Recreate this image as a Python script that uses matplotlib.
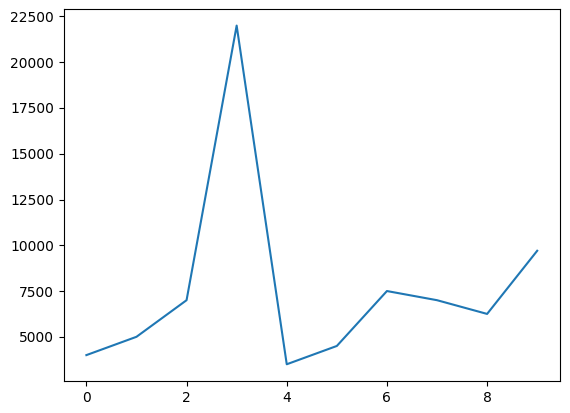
import matplotlib
matplotlib.use("Agg")
import matplotlib.pyplot as plt

x = list(range(10))
y = [4000, 5000, 7000, 22000, 3500, 4500, 7500, 7000, 6250, 9700]

fig = plt.figure(figsize=(5.7, 4.13), dpi=100)
ax = fig.add_axes([0.112, 0.077, 0.870, 0.902])
ax.plot(x, y)

fig.savefig("out.png")
